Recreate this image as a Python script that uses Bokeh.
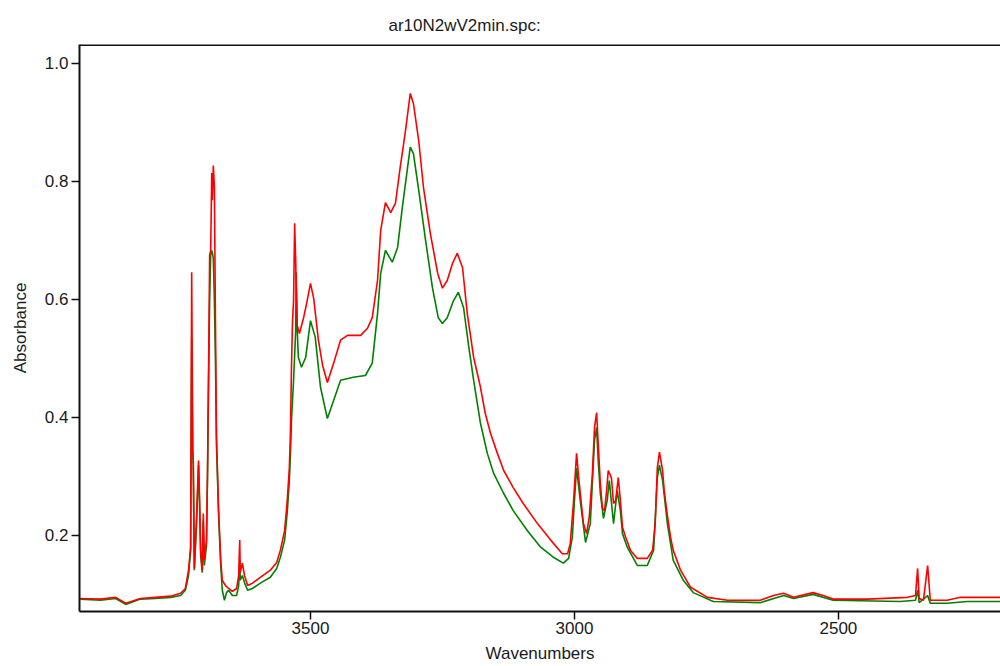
from bokeh.plotting import figure
from bokeh.models import Range1d, FixedTicker, PrintfTickFormatter, Span
from bokeh.embed import file_html
from bokeh.resources import INLINE

title_text = "ar10N2wV2min.spc:"
x_label = "Wavenumbers"
y_label = "Absorbance"
x_ticks = [2500, 3000, 3500]
y_ticks = [0.2, 0.4, 0.6, 0.8, 1.0]

red_wn = [3936, 3898, 3869, 3850, 3822, 3794, 3765, 3746, 3737, 3731,
          3727, 3725, 3723, 3722, 3720, 3716, 3712, 3710, 3708, 3705,
          3703, 3701, 3697, 3695, 3693, 3691, 3689, 3687, 3686, 3684,
          3682, 3680, 3678, 3674, 3670, 3667, 3661, 3655, 3648, 3640,
          3636, 3634, 3633, 3629, 3625, 3619, 3610, 3595, 3576, 3564,
          3557, 3549, 3544, 3540, 3538, 3536, 3534, 3532, 3530, 3528,
          3527, 3525, 3521, 3513, 3508, 3500, 3494, 3485, 3477, 3468,
          3456, 3443, 3430, 3405, 3392, 3383, 3373, 3367, 3358, 3348,
          3339, 3330, 3320, 3311, 3305, 3295, 3286, 3273, 3259, 3250,
          3241, 3231, 3222, 3212, 3203, 3191, 3178, 3169, 3159, 3146,
          3134, 3116, 3097, 3070, 3045, 3023, 3013, 3008, 3002, 2996,
          2992, 2987, 2983, 2977, 2972, 2966, 2962, 2958, 2955, 2951,
          2947, 2943, 2939, 2936, 2930, 2926, 2922, 2917, 2913, 2909,
          2903, 2894, 2881, 2862, 2852, 2847, 2843, 2839, 2833, 2830,
          2824, 2818, 2813, 2799, 2780, 2748, 2710, 2648, 2623, 2604,
          2585, 2548, 2529, 2510, 2445, 2369, 2354, 2350, 2347, 2339,
          2331, 2326, 2294, 2269, 2212, 2180]
red_abs = [0.093, 0.092, 0.095, 0.085, 0.093, 0.095, 0.097, 0.102, 0.110, 0.141,
           0.180, 0.646, 0.344, 0.327, 0.144, 0.225, 0.327, 0.259, 0.175, 0.141,
           0.237, 0.158, 0.192, 0.310, 0.480, 0.675, 0.683, 0.814, 0.768, 0.827,
           0.790, 0.564, 0.366, 0.242, 0.158, 0.124, 0.115, 0.110, 0.105, 0.110,
           0.132, 0.192, 0.137, 0.153, 0.132, 0.115, 0.119, 0.129, 0.141, 0.154,
           0.175, 0.208, 0.259, 0.315, 0.373, 0.485, 0.564, 0.598, 0.729, 0.666,
           0.615, 0.556, 0.542, 0.569, 0.590, 0.627, 0.602, 0.531, 0.488, 0.459,
           0.492, 0.531, 0.539, 0.539, 0.551, 0.569, 0.632, 0.717, 0.764, 0.747,
           0.763, 0.824, 0.886, 0.949, 0.932, 0.869, 0.790, 0.712, 0.644, 0.619,
           0.632, 0.661, 0.678, 0.654, 0.576, 0.502, 0.451, 0.407, 0.373, 0.339,
           0.310, 0.281, 0.254, 0.220, 0.192, 0.169, 0.169, 0.186, 0.254, 0.339,
           0.298, 0.254, 0.220, 0.203, 0.231, 0.305, 0.383, 0.408, 0.356, 0.288,
           0.246, 0.242, 0.276, 0.310, 0.298, 0.254, 0.259, 0.298, 0.259, 0.214,
           0.197, 0.175, 0.161, 0.161, 0.175, 0.220, 0.315, 0.341, 0.310, 0.276,
           0.234, 0.197, 0.175, 0.141, 0.112, 0.095, 0.090, 0.090, 0.098, 0.102,
           0.095, 0.103, 0.098, 0.092, 0.092, 0.095, 0.098, 0.144, 0.093, 0.090,
           0.149, 0.090, 0.090, 0.095, 0.095, 0.095]

green_wn = [3936, 3898, 3869, 3850, 3822, 3794, 3765, 3746, 3737, 3731,
            3727, 3725, 3723, 3722, 3720, 3716, 3712, 3710, 3708, 3705,
            3703, 3701, 3697, 3695, 3693, 3691, 3689, 3687, 3686, 3684,
            3682, 3680, 3678, 3674, 3670, 3667, 3663, 3659, 3655, 3648,
            3640, 3636, 3634, 3633, 3629, 3625, 3619, 3610, 3595, 3576,
            3564, 3557, 3549, 3544, 3540, 3538, 3536, 3532, 3528, 3527,
            3525, 3523, 3517, 3509, 3500, 3491, 3481, 3468, 3456, 3443,
            3419, 3396, 3383, 3373, 3367, 3358, 3345, 3335, 3326, 3316,
            3311, 3305, 3295, 3282, 3269, 3258, 3250, 3241, 3229, 3220,
            3210, 3201, 3191, 3178, 3165, 3153, 3134, 3116, 3089, 3064,
            3040, 3021, 3011, 3004, 3000, 2996, 2989, 2979, 2970, 2962,
            2958, 2955, 2951, 2945, 2938, 2934, 2926, 2919, 2913, 2909,
            2900, 2881, 2862, 2850, 2843, 2839, 2833, 2824, 2813, 2794,
            2775, 2737, 2648, 2604, 2585, 2548, 2510, 2383, 2354, 2350,
            2347, 2331, 2326, 2294, 2256, 2180]
green_abs = [0.092, 0.090, 0.093, 0.083, 0.092, 0.093, 0.095, 0.098, 0.107, 0.132,
             0.175, 0.534, 0.344, 0.319, 0.141, 0.217, 0.319, 0.251, 0.166, 0.137,
             0.225, 0.149, 0.183, 0.302, 0.463, 0.598, 0.675, 0.683, 0.680, 0.669,
             0.598, 0.497, 0.353, 0.234, 0.149, 0.107, 0.090, 0.103, 0.107, 0.098,
             0.098, 0.115, 0.158, 0.124, 0.132, 0.120, 0.107, 0.110, 0.119, 0.129,
             0.144, 0.163, 0.192, 0.239, 0.293, 0.336, 0.395, 0.463, 0.547, 0.646,
             0.547, 0.502, 0.485, 0.502, 0.564, 0.536, 0.451, 0.398, 0.429, 0.463,
             0.468, 0.471, 0.492, 0.576, 0.644, 0.683, 0.663, 0.688, 0.756, 0.824,
             0.858, 0.847, 0.785, 0.700, 0.620, 0.569, 0.559, 0.569, 0.598, 0.612,
             0.586, 0.525, 0.463, 0.390, 0.339, 0.305, 0.271, 0.242, 0.208, 0.180,
             0.163, 0.153, 0.161, 0.197, 0.259, 0.314, 0.259, 0.188, 0.220, 0.361,
             0.383, 0.327, 0.271, 0.229, 0.259, 0.293, 0.220, 0.276, 0.242, 0.203,
             0.180, 0.149, 0.149, 0.175, 0.298, 0.319, 0.293, 0.220, 0.158, 0.124,
             0.103, 0.088, 0.086, 0.098, 0.093, 0.100, 0.090, 0.088, 0.090, 0.107,
             0.086, 0.098, 0.085, 0.085, 0.088, 0.088]

FONT = "Liberation Sans"
TXT = "#1a1a1a"
Y_MIN, Y_MAX = 0.071, 1.032

p = figure(width=1000, height=666, output_backend="svg", toolbar_location=None,
           x_range=Range1d(3937.5, 2193), y_range=Range1d(Y_MIN, Y_MAX),
           min_border_left=79, min_border_right=0, min_border_top=44, min_border_bottom=55,
           title=title_text)

p.title.text_font = FONT
p.title.text_font_size = "17px"
p.title.text_font_style = "normal"
p.title.text_color = TXT
p.title.align = "left"
p.title.offset = 309
p.title.standoff = 19

p.line(green_wn, green_abs, line_color="#008000", line_width=1.6)
p.line(red_wn, red_abs, line_color="#ff0000", line_width=1.6)

# top border only (the right edge of the frame lies outside the window in the reference)
p.add_layout(Span(location=Y_MAX, dimension="width", line_color="#111111", line_width=3))

p.xgrid.visible = False
p.ygrid.visible = False
p.outline_line_color = None
p.background_fill_color = "white"
p.border_fill_color = "white"

for ax in (p.xaxis[0], p.yaxis[0]):
    ax.axis_line_color = "#111111"
    ax.axis_line_width = 2
    ax.major_tick_line_color = "#111111"
    ax.major_tick_line_width = 1.5
    ax.major_tick_out = 8
    ax.major_tick_in = 0
    ax.minor_tick_line_color = None
    ax.major_label_text_font = FONT
    ax.major_label_text_font_size = "17px"
    ax.major_label_text_color = TXT
    ax.axis_label_text_font = FONT
    ax.axis_label_text_font_size = "17px"
    ax.axis_label_text_font_style = "normal"
    ax.axis_label_text_color = TXT

p.xaxis[0].ticker = FixedTicker(ticks=x_ticks, minor_ticks=[])
p.yaxis[0].ticker = FixedTicker(ticks=y_ticks, minor_ticks=[])
p.yaxis[0].formatter = PrintfTickFormatter(format="%.1f")
p.xaxis[0].axis_label = x_label
p.yaxis[0].axis_label = y_label
p.xaxis[0].major_label_standoff = 2
p.xaxis[0].axis_label_standoff = 7
p.yaxis[0].major_label_standoff = 3
p.yaxis[0].axis_label_standoff = 12

open("out.html", "w").write(file_html(p, INLINE))
